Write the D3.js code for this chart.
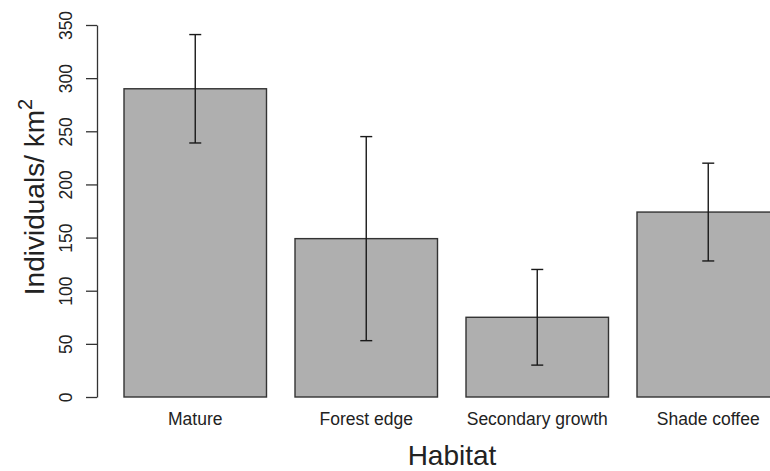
<!DOCTYPE html>
<html>
<head>
<meta charset="utf-8">
<script src="https://cdn.jsdelivr.net/npm/d3@7"></script>
<style>
  body { margin: 0; background: #fff; }
  svg { display: block; font-family: "Liberation Sans", Arial, sans-serif; }
</style>
</head>
<body>
<svg id="chart" width="770" height="471"></svg>
<script>
// data
const habitats = ["Mature", "Forest edge", "Secondary growth", "Shade coffee"];
const density = [290, 149, 75, 174];
const errLow = [239, 53, 30, 128];
const errHigh = [341, 245, 120, 220];
const yTicks = [0, 50, 100, 150, 200, 250, 300, 350];

const width = 770;
const height = 471;

const barFill = "#afafaf";
const barLine = "#333333";

const svg = d3.select("#chart");

// y axis
let y = d3.scaleLinear().domain([0, 350]).range([397, 25]);

// bars: width 1, space 0.2 like barplot
let step = 171;
let x0 = 124 - step / 12;
let x = d3.scaleBand()
  .domain(habitats)
  .range([x0, x0 + 4 * step])
  .paddingInner(1 / 6)
  .paddingOuter(1 / 12);

const rows = habitats.map((h, i) => ({ h, v: density[i], lo: errLow[i], hi: errHigh[i] }));

svg.append("g")
  .selectAll("rect")
  .data(rows)
  .join("rect")
  .attr("x", d => x(d.h))
  .attr("y", d => y(d.v))
  .attr("width", x.bandwidth())
  .attr("height", d => y(0) - y(d.v))
  .attr("fill", barFill)
  .attr("stroke", barLine)
  .attr("stroke-width", 1.4);

// error bars
let cap = 6;
let eb = svg.append("g").attr("stroke", "#1a1a1a").attr("stroke-width", 1.4);
rows.forEach(d => {
  let cx = x(d.h) + x.bandwidth() / 2;
  eb.append("line").attr("x1", cx).attr("x2", cx).attr("y1", y(d.lo)).attr("y2", y(d.hi));
  eb.append("line").attr("x1", cx - cap).attr("x2", cx + cap).attr("y1", y(d.hi)).attr("y2", y(d.hi));
  eb.append("line").attr("x1", cx - cap).attr("x2", cx + cap).attr("y1", y(d.lo)).attr("y2", y(d.lo));
});

// left axis
let axis = svg.append("g")
  .attr("transform", "translate(97,0)")
  .call(d3.axisLeft(y).tickValues(yTicks).tickSize(11).tickSizeOuter(0).tickFormat(d3.format("d")));

axis.select(".domain").attr("stroke", "#333").attr("stroke-width", 1.3);
axis.selectAll(".tick line").attr("stroke", "#333").attr("stroke-width", 1.3);
axis.selectAll(".tick text")
  .attr("x", null).attr("dy", null)
  .attr("transform", "translate(-25,0) rotate(-90)")
  .attr("text-anchor", "middle")
  .attr("font-size", 17.5)
  .attr("font-family", "Liberation Sans, Arial, sans-serif")
  .attr("fill", "#222");

// category labels
svg.append("g")
  .selectAll("text")
  .data(habitats)
  .join("text")
  .attr("x", d => x(d) + x.bandwidth() / 2)
  .attr("y", 425)
  .attr("text-anchor", "middle")
  .attr("font-size", 17.5)
  .attr("fill", "#222")
  .text(d => d);

// axis titles
svg.append("text")
  .attr("x", 452)
  .attr("y", 465)
  .attr("text-anchor", "middle")
  .attr("font-size", 28)
  .attr("fill", "#222")
  .text("Habitat");

let yt = svg.append("text")
  .attr("transform", "translate(44,197) rotate(-90)")
  .attr("text-anchor", "middle")
  .attr("font-size", 28)
  .attr("fill", "#222");
yt.append("tspan").text("Individuals/ km");
yt.append("tspan").attr("font-size", 20).attr("dy", -12).text("2");
</script>
</body>
</html>
